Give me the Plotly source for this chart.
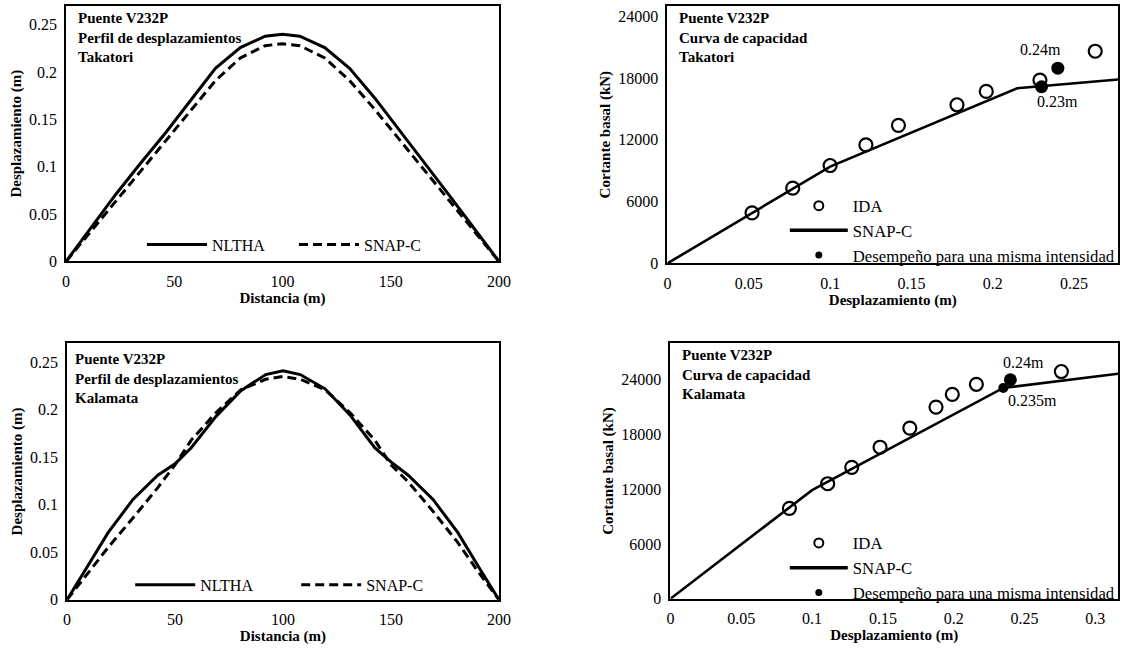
import plotly.graph_objects as go

W, H = 1131, 657
SERIF = "Liberation Serif, Times New Roman, serif"

# ---- Displacement profiles along the deck (distance in m, displacement in m)
tak_dist = [0, 11.5, 23, 34.5, 46, 57.5, 69, 80.5, 92, 100, 108, 119.5, 131, 142.5, 154, 165.5, 177, 188.5, 200]
tak_nltha = [0, 0.036, 0.071, 0.104, 0.136, 0.170, 0.204, 0.226, 0.238, 0.240, 0.238, 0.226, 0.204, 0.173, 0.139, 0.105, 0.070, 0.035, 0]
tak_snapc = [0, 0.032, 0.064, 0.096, 0.127, 0.159, 0.191, 0.215, 0.228, 0.230, 0.228, 0.215, 0.191, 0.161, 0.129, 0.097, 0.065, 0.033, 0]

kal_dist = [0, 9.5, 19, 30.5, 42, 50, 57.5, 69, 80.5, 92, 100, 108, 119.5, 131, 142.5, 150, 158, 169.5, 181, 190.5, 200]
kal_nltha = [0, 0.036, 0.0705, 0.1055, 0.131, 0.143, 0.160, 0.193, 0.220, 0.237, 0.241, 0.237, 0.222, 0.1945, 0.160, 0.145, 0.131, 0.1055, 0.0705, 0.035, 0]
kal_snapc = [0, 0.027, 0.055, 0.086, 0.118, 0.142, 0.168, 0.197, 0.221, 0.232, 0.235, 0.232, 0.221, 0.197, 0.168, 0.142, 0.124, 0.093, 0.060, 0.029, 0]

# ---- Capacity curves (displacement in m, base shear in kN)
tak_ida_disp = [0.052, 0.077, 0.100, 0.122, 0.142, 0.178, 0.196, 0.229, 0.263]
tak_ida_shear = [4900, 7300, 9500, 11500, 13400, 15400, 16700, 17800, 20600]
tak_cap_disp = [0, 0.100, 0.215, 0.277]
tak_cap_shear = [0, 9400, 17000, 17850]
tak_perf_disp = [0.23, 0.24]
tak_perf_shear = [17150, 18950]

kal_ida_disp = [0.084, 0.111, 0.128, 0.148, 0.169, 0.1875, 0.199, 0.216, 0.276]
kal_ida_shear = [9900, 12600, 14400, 16600, 18700, 21000, 22400, 23500, 24900]
kal_cap_disp = [0, 0.088, 0.100, 0.235, 0.316]
kal_cap_shear = [0, 10400, 11900, 23100, 24650]
kal_perf_disp = [0.235, 0.24]
kal_perf_shear = [23100, 24000]

profile_ticks_x = [0, 50, 100, 150, 200]
profile_ticks_y = [0, 0.05, 0.1, 0.15, 0.2, 0.25]
shear_ticks = [0, 6000, 12000, 18000, 24000]
tak_disp_ticks = [0, 0.05, 0.1, 0.15, 0.2, 0.25]
kal_disp_ticks = [0, 0.05, 0.1, 0.15, 0.2, 0.25, 0.3]

DASH = "9px,5px"


def px_x(p):
    return p / W


def px_y(p):
    return 1 - p / H


fig = go.Figure()

# Left column: displacement profiles
for dist, nl, sn, ax, lg in [
    (tak_dist, tak_nltha, tak_snapc, ("x", "y"), "legend"),
    (kal_dist, kal_nltha, kal_snapc, ("x2", "y2"), "legend2"),
]:
    fig.add_trace(go.Scatter(x=dist, y=nl, mode="lines", name="NLTHA",
                             line=dict(color="black", width=3),
                             xaxis=ax[0], yaxis=ax[1], legend=lg))
    fig.add_trace(go.Scatter(x=dist, y=sn, mode="lines", name="SNAP-C",
                             line=dict(color="black", width=3, dash=DASH),
                             xaxis=ax[0], yaxis=ax[1], legend=lg))

# Right column: capacity curves
for ida_x, ida_y, cap_x, cap_y, pf_x, pf_y, pf_sizes, ax, lg in [
    (tak_ida_disp, tak_ida_shear, tak_cap_disp, tak_cap_shear, tak_perf_disp, tak_perf_shear,
     [13, 13], ("x3", "y3"), "legend3"),
    (kal_ida_disp, kal_ida_shear, kal_cap_disp, kal_cap_shear, kal_perf_disp, kal_perf_shear,
     [10, 13], ("x4", "y4"), "legend4"),
]:
    fig.add_trace(go.Scatter(x=ida_x, y=ida_y, mode="markers", name="IDA", showlegend=False,
                             marker=dict(symbol="circle-open", size=13, color="black",
                                         line=dict(width=2.2, color="black")),
                             xaxis=ax[0], yaxis=ax[1]))
    fig.add_trace(go.Scatter(x=cap_x, y=cap_y, mode="lines", name="SNAP-C", showlegend=False,
                             line=dict(color="black", width=2.6),
                             xaxis=ax[0], yaxis=ax[1]))
    fig.add_trace(go.Scatter(x=pf_x, y=pf_y, mode="markers", showlegend=False,
                             name="Desempeño para una misma intensidad",
                             marker=dict(symbol="circle", size=pf_sizes, color="black",
                                         opacity=1, line=dict(width=0)),
                             xaxis=ax[0], yaxis=ax[1]))
    # legend entries
    fig.add_trace(go.Scatter(x=[None], y=[None], mode="markers", name="IDA",
                             marker=dict(symbol="circle-open", size=9, color="black",
                                         line=dict(width=2, color="black")),
                             xaxis=ax[0], yaxis=ax[1], legend=lg))
    fig.add_trace(go.Scatter(x=[None], y=[None], mode="lines", name="SNAP-C",
                             line=dict(color="black", width=3.5),
                             xaxis=ax[0], yaxis=ax[1], legend=lg))
    fig.add_trace(go.Scatter(x=[None], y=[None], mode="markers",
                             name="Desempeño para una misma intensidad",
                             marker=dict(symbol="circle", size=7, color="black"),
                             xaxis=ax[0], yaxis=ax[1], legend=lg))

tick_font = dict(family=SERIF, size=16, color="black")
title_font = dict(family=SERIF, size=15, color="black", weight="bold")


def axis(domain, rng, tickvals, title, anchor, standoff):
    return dict(domain=domain, range=rng, anchor=anchor, tickvals=tickvals,
                ticktext=[f"{v:g}" for v in tickvals],
                showline=True, mirror=True, linecolor="black", linewidth=2,
                ticks="", showgrid=False, zeroline=False, tickfont=tick_font,
                ticklabelstandoff=4,
                title=dict(text=title, font=title_font, standoff=standoff),
                fixedrange=True)


layout = dict(
    width=W, height=H, margin=dict(l=0, r=0, t=0, b=0),
    paper_bgcolor="white", plot_bgcolor="white",
    font=dict(family=SERIF, size=16, color="black"),
    xaxis=axis([px_x(63), px_x(502)], [0, 200], profile_ticks_x, "Distancia (m)", "y", 2),
    yaxis=axis([px_y(265), px_y(6)], [0, 0.27], profile_ticks_y, "Desplazamiento (m)", "x", 4),
    xaxis2=axis([px_x(64), px_x(502)], [0, 200], profile_ticks_x, "Distancia (m)", "y2", 2),
    yaxis2=axis([px_y(608), px_y(348)], [0, 0.27], profile_ticks_y, "Desplazamiento (m)", "x2", 4),
    xaxis3=axis([px_x(673), px_x(1130)], [0, 0.277], tak_disp_ticks, "Desplazamiento (m)", "y3", 2),
    yaxis3=axis([px_y(267), px_y(6)], [0, 25000], shear_ticks, "Cortante basal (kN)", "x3", 4),
    xaxis4=axis([px_x(676), px_x(1130)], [0, 0.316], kal_disp_ticks, "Desplazamiento (m)", "y4", 2),
    yaxis4=axis([px_y(607), px_y(348)], [0, 28000], shear_ticks, "Cortante basal (kN)", "x4", 4),
)

leg_common = dict(bgcolor="rgba(0,0,0,0)", font=dict(family=SERIF, size=16, color="black"),
                  xanchor="left", yanchor="middle")
layout["legend"] = dict(leg_common, x=px_x(140), y=px_y(248), orientation="h",
                        entrywidth=77, entrywidthmode="pixels", itemwidth=60)
layout["legend2"] = dict(leg_common, x=px_x(128), y=px_y(593), orientation="h",
                         entrywidth=91, entrywidthmode="pixels", itemwidth=60)
layout["legend3"] = dict(leg_common, x=px_x(792), y=px_y(234), orientation="v",
                         itemwidth=58, tracegroupgap=0,
                         font=dict(family=SERIF, size=16.7, color="black"))
layout["legend4"] = dict(leg_common, x=px_x(792), y=px_y(576), orientation="v",
                         itemwidth=58, tracegroupgap=0,
                         font=dict(family=SERIF, size=16.7, color="black"))

fig.update_layout(**layout)

# Panel captions
captions = [
    (73, 8, "Puente V232P<br>Perfil de desplazamientos<br>Takatori"),
    (70, 354, "Puente V232P<br>Perfil de desplazamientos<br>Kalamata"),
    (683, 8, "Puente V232P<br>Curva de capacidad<br>Takatori"),
    (686, 350, "Puente V232P<br>Curva de capacidad<br>Kalamata"),
]
for cx, cy, txt in captions:
    fig.add_annotation(x=px_x(cx), y=px_y(cy), xref="paper", yref="paper",
                       xanchor="left", yanchor="top", align="left", showarrow=False,
                       text=txt,
                       font=dict(family=SERIF, size=15, color="black", weight="bold"))

# Displacement labels next to the performance points
offsets = {
    "x3": [(16, -15), (-17, 19)],
    "x4": [(29, -13), (13, 17)],
}
for pf_x, pf_y, ax, ay in [(tak_perf_disp, tak_perf_shear, "x3", "y3"),
                           (kal_perf_disp, kal_perf_shear, "x4", "y4")]:
    for (xv, yv), (dx, dy) in zip(zip(pf_x, pf_y), offsets[ax]):
        fig.add_annotation(x=xv, y=yv, xref=ax, yref=ay, text=f"{xv:g}m", showarrow=False,
                           xshift=dx, yshift=dy,
                           font=dict(family=SERIF, size=16, color="black"))

fig.write_html("out.html")
